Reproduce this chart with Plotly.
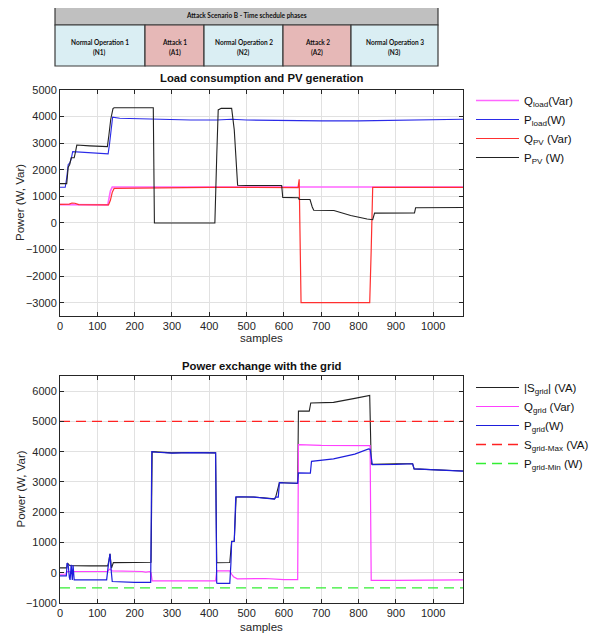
import plotly.graph_objects as go

# page body adds an 8px margin, so the figure is 8px smaller and all
# reference pixel positions are shifted by 8px
OFF = 8
W, H = 613 - OFF, 637 - OFF

# ---------------- data: top plot (Load consumption and PV generation) ----------------
qload_x = [0, 60, 100, 128, 131, 135, 140, 200, 300, 400, 500, 600, 700, 800, 900, 1000, 1080]
qload_y = [690, 690, 680, 680, 900, 1200, 1350, 1350, 1340, 1350, 1340, 1350, 1340, 1350, 1350, 1340, 1350]

pload_x = [0, 14, 18, 22, 26, 30, 34, 60, 100, 129, 133, 138, 141, 160, 200, 250, 300, 350, 420, 460, 500, 600, 700, 800, 900, 1000, 1080]
pload_y = [1340, 1340, 1700, 2200, 2250, 2400, 2680, 2660, 2620, 2600, 3000, 3600, 3980, 3940, 3920, 3900, 3870, 3870, 3870, 3900, 3870, 3850, 3840, 3840, 3870, 3900, 3900]

qpv_x = [0, 25, 32, 40, 50, 100, 130, 135, 140, 145, 200, 250, 300, 400, 500, 600, 638, 641, 643, 646, 700, 800, 830, 834, 838, 900, 1000, 1080]
qpv_y = [700, 710, 750, 740, 690, 680, 680, 850, 1150, 1300, 1310, 1330, 1340, 1340, 1340, 1330, 1330, 1640, -500, -3000, -3000, -3000, -3000, -1000, 1340, 1340, 1340, 1340]

ppv_x = [0, 18, 22, 26, 30, 34, 38, 42, 45, 80, 127, 131, 136, 142, 145, 200, 250, 253, 300, 415, 420, 424, 432, 460, 467, 472, 476, 500, 550, 594, 597, 639, 641, 670, 676, 680, 734, 779, 823, 833, 838, 843, 900, 950, 953, 1000, 1080]
ppv_y = [1480, 1480, 2100, 2200, 2450, 2450, 2450, 2700, 2930, 2900, 2870, 3300, 3900, 4300, 4330, 4330, 4330, 0, 0, 0, 2500, 4250, 4310, 4310, 3500, 2490, 1420, 1410, 1420, 1410, 960, 950, 880, 880, 600, 475, 470, 280, 150, 120, 120, 370, 370, 380, 570, 570, 580]

# ---------------- data: bottom plot (Power exchange with the grid) ----------------
sgrid_x = [0, 18, 20, 22, 25, 28, 32, 36, 40, 80, 128, 131, 134, 138, 143, 200, 244, 247, 300, 350, 417, 420, 455, 460, 467, 472, 520, 575, 578, 588, 600, 637, 639, 668, 672, 733, 790, 827, 830, 834, 838, 900, 945, 949, 1000, 1080]
sgrid_y = [160, 160, 320, 280, 250, 230, 225, 225, 230, 228, 225, 400, 626, 150, 335, 340, 345, 4000, 3960, 3970, 3960, 330, 340, 1040, 1040, 2500, 2500, 2440, 2500, 2980, 2970, 2950, 5340, 5340, 5610, 5630, 5760, 5860, 5860, 3600, 3580, 3600, 3600, 3430, 3400, 3360]

qgrid_x = [0, 16, 19, 128, 131, 134, 140, 180, 220, 230, 240, 244, 247, 300, 417, 420, 455, 460, 465, 475, 550, 600, 637, 639, 700, 831, 834, 900, 1000, 1080]
qgrid_y = [-50, -50, 40, 40, 90, 120, 60, 55, 40, 20, 40, 0, -268, -270, -270, 60, 60, -50, -130, -200, -190, -230, -230, 4235, 4210, 4200, -250, -250, -240, -235]

pgrid_x = [0, 17, 19, 22, 25, 27, 30, 33, 35, 38, 42, 80, 125, 129, 134, 137, 140, 200, 243, 246, 260, 300, 350, 417, 420, 423, 455, 458, 460, 467, 471, 480, 520, 575, 578, 585, 588, 600, 637, 639, 671, 674, 733, 790, 827, 831, 837, 900, 945, 949, 1000, 1080]
pgrid_y = [-103, -103, 318, 250, -150, -235, 260, -235, 250, -235, -235, -240, -235, 200, 626, 100, -290, -320, -320, 4000, 3980, 3950, 3970, 3960, -340, -350, -350, 300, 1030, 1040, 2500, 2510, 2500, 2430, 2500, 2500, 2980, 2970, 2960, 3298, 3290, 3682, 3760, 3920, 4093, 4080, 3573, 3580, 3600, 3430, 3400, 3360]

limit_x = [0, 1080]
smax_y = [5000, 5000]
pmin_y = [-500, -500]

# ---------------- header (time schedule phases) ----------------
header_title = "Attack Scenario B - Time schedule phases"
phase_line1 = ["Normal Operation 1", "Attack 1", "Normal Operation 2", "Attack 2", "Normal Operation 3"]
phase_line2 = ["(N1)", "(A1)", "(N2)", "(A2)", "(N3)"]
phase_edges_px = [55, 145, 204, 283, 351, 438]
phase_colors = ["#DAEEF3", "#E6B8B7", "#DAEEF3", "#E6B8B7", "#DAEEF3"]

FONT = "Liberation Sans, Arial, sans-serif"
HFONT = "Lato, Liberation Sans, sans-serif"
AX = "#262626"
GRID = "#E1E1E1"


def px(x):
    return (x - OFF) / W


def py(y):
    return 1 - (y - OFF) / H


fig = go.Figure()

top_traces = [
    (qload_x, qload_y, "Q<sub>load</sub>(Var)", "#FF66FF", 1.6, "solid"),
    (pload_x, pload_y, "P<sub>load</sub>(W)", "#2B2BE8", 1.1, "solid"),
    (qpv_x, qpv_y, "Q<sub>PV</sub> (Var)", "#FF3030", 1.2, "solid"),
    (ppv_x, ppv_y, "P<sub>PV</sub> (W)", "#222222", 1.1, "solid"),
]
for xs, ys, name, col, w, dash in top_traces:
    fig.add_trace(go.Scatter(x=xs, y=ys, mode="lines", name=name,
                             line=dict(color=col, width=w, dash=dash),
                             xaxis="x", yaxis="y", legend="legend"))

bot_traces = [
    (sgrid_x, sgrid_y, "|S<sub>grid</sub>| (VA)", "#222222", 1.1, "solid"),
    (qgrid_x, qgrid_y, "Q<sub>grid</sub> (Var)", "#FF40FF", 1.2, "solid"),
    (pgrid_x, pgrid_y, "P<sub>grid</sub>(W)", "#1E1EDC", 1.2, "solid"),
    (limit_x, smax_y, "S<sub>grid-Max</sub> (VA)", "#FF2222", 1.3, "10px,6px"),
    (limit_x, pmin_y, "P<sub>grid-Min</sub> (W)", "#33EE33", 1.3, "10px,6px"),
]
for xs, ys, name, col, w, dash in bot_traces:
    fig.add_trace(go.Scatter(x=xs, y=ys, mode="lines", name=name,
                             line=dict(color=col, width=w, dash=dash),
                             xaxis="x2", yaxis="y2", legend="legend2"))

xdom = [px(60), px(463)]
axis_common = dict(showline=True, linecolor=AX, linewidth=1, mirror="ticks",
                   ticks="inside", ticklen=4, tickcolor=AX, showgrid=True,
                   gridcolor=GRID, gridwidth=1, zeroline=False, automargin=False,
                   tickfont=dict(family=FONT, size=11, color=AX))

shapes = []
annotations = []

# header shapes
shapes.append(dict(type="rect", xref="paper", yref="paper",
                   x0=px(55), x1=px(438), y0=py(25), y1=py(4),
                   fillcolor="#C0C0C0", line=dict(color="#3A3A3A", width=1.2), layer="above"))
hfont = dict(family=HFONT, size=6.5, color="#111111", weight="bold")
for i in range(len(phase_line1)):
    x0, x1 = phase_edges_px[i], phase_edges_px[i + 1]
    shapes.append(dict(type="rect", xref="paper", yref="paper",
                       x0=px(x0), x1=px(x1), y0=py(66), y1=py(25),
                       fillcolor=phase_colors[i], line=dict(color="#3A3A3A", width=1.2), layer="above"))
    annotations.append(dict(xref="paper", yref="paper", x=px((x0 + x1) / 2), y=py(42.5),
                            xanchor="center", yanchor="middle",
                            text=phase_line1[i], showarrow=False, font=hfont))
    annotations.append(dict(xref="paper", yref="paper", x=px((x0 + x1) / 2), y=py(52),
                            xanchor="center", yanchor="middle",
                            text=phase_line2[i], showarrow=False, font=hfont))
annotations.append(dict(xref="paper", yref="paper", x=px(246.5), y=py(15),
                        xanchor="center", yanchor="middle",
                        text=header_title, showarrow=False, font=hfont))

# subplot titles
tfont = dict(family=FONT, size=11.3, color="#111111", weight="bold")
annotations.append(dict(xref="paper", yref="paper", x=px(261.5), y=py(78),
                        xanchor="center", yanchor="middle",
                        text="Load consumption and PV generation", showarrow=False, font=tfont))
annotations.append(dict(xref="paper", yref="paper", x=px(261.5), y=py(366),
                        xanchor="center", yanchor="middle",
                        text="Power exchange with the grid", showarrow=False, font=tfont))

# axis titles
afont = dict(family=FONT, size=11.5, color=AX)
for yc in (203, 489.5):
    annotations.append(dict(xref="paper", yref="paper", x=px(20), y=py(yc),
                            xanchor="center", yanchor="middle", textangle=-90,
                            text="Power (W, Var)", showarrow=False, font=afont))
for yc in (338, 627):
    annotations.append(dict(xref="paper", yref="paper", x=px(261.5), y=py(yc),
                            xanchor="center", yanchor="middle",
                            text="samples", showarrow=False, font=afont))

legend_common = dict(font=dict(family=FONT, size=11.5, color="#111111"),
                     bgcolor="rgba(0,0,0,0)", itemwidth=43, tracegroupgap=0,
                     xanchor="left", yanchor="top")

fig.update_layout(
    width=W, height=H,
    margin=dict(l=0, r=0, t=0, b=0, autoexpand=False),
    paper_bgcolor="white", plot_bgcolor="white",
    font=dict(family=FONT, color=AX),
    xaxis=dict(domain=xdom, range=[0, 1080], tick0=0, dtick=100, anchor="y", **axis_common),
    yaxis=dict(domain=[py(316), py(90)], range=[-3500, 5000], tick0=0, dtick=1000, anchor="x",
               **axis_common),
    xaxis2=dict(domain=xdom, range=[0, 1080], tick0=0, dtick=100, anchor="y2", **axis_common),
    yaxis2=dict(domain=[py(603), py(376)], range=[-1000, 6500], tick0=0, dtick=1000, anchor="x2",
                **axis_common),
    legend=dict(x=px(471), y=py(86), **legend_common),
    legend2=dict(x=px(471), y=py(373), **legend_common),
    shapes=shapes,
    annotations=annotations,
)

fig.write_html("out.html")
